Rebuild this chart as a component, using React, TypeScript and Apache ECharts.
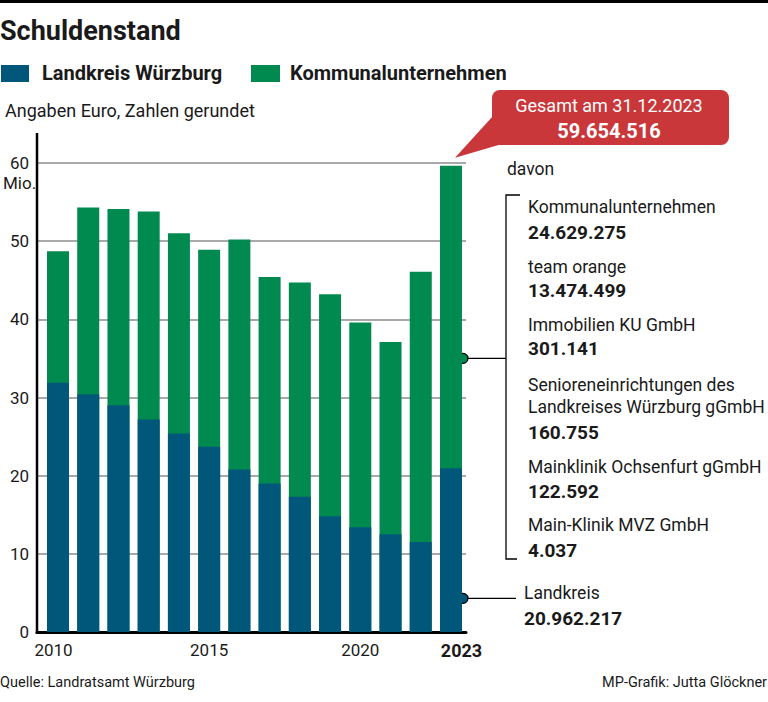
import React, { useEffect, useRef } from "react";
import * as echarts from "echarts";

const years = [2010, 2011, 2012, 2013, 2014, 2015, 2016, 2017, 2018, 2019, 2020, 2021, 2022, 2023];
const landkreis = [31.9, 30.4, 29.0, 27.2, 25.4, 23.7, 20.8, 19.0, 17.3, 14.8, 13.4, 12.5, 11.5, 20.962217];
const kommunal = [16.8, 23.9, 25.1, 26.6, 25.6, 25.2, 29.4, 26.4, 27.4, 28.4, 26.2, 24.6, 34.6, 38.692299];
const yTicks = [0, 10, 20, 30, 40, 50, 60];
const xLabels = [2010, 2015, 2020, 2023];
const breakdown = [
  { name: ["Kommunalunternehmen"], value: "24.629.275" },
  { name: ["team orange"], value: "13.474.499" },
  { name: ["Immobilien KU GmbH"], value: "301.141" },
  { name: ["Senioreneinrichtungen des", "Landkreises Würzburg gGmbH"], value: "160.755" },
  { name: ["Mainklinik Ochsenfurt gGmbH"], value: "122.592" },
  { name: ["Main-Klinik MVZ GmbH"], value: "4.037" },
];
const totalLabel = "59.654.516";
const landkreisLabel = "20.962.217";

const BLUE = "#00577a";
const GREEN = "#008a4f";
const RED = "#c9373a";
const FONT = "Roboto";
const TXT = "#1a1a1a";

export default function App() {
  const ref = useRef<HTMLDivElement>(null);
  useEffect(() => {
    if (!ref.current) return;
    const chart = echarts.init(ref.current, undefined, { renderer: "svg" });
    const gridLeft = 37;
    const gridRight = 466;
    const totals = years.map((_, i) => landkreis[i] + kommunal[i]);
    chart.setOption({
      animation: false,
      grid: { left: gridLeft, right: 768 - gridRight, top: 163, bottom: 70, containLabel: false },
      xAxis: {
        type: "value",
        min: 2009.305,
        max: 2023.497,
        axisLine: { show: true, lineStyle: { color: "#000", width: 3 } },
        axisTick: { show: false },
        splitLine: { show: false },
        axisLabel: {
          customValues: xLabels,
          margin: 9,
          fontFamily: FONT,
          fontSize: 17,
          color: TXT,
          formatter: (v: number) => (v === 2010 ? "{a|2010}" : v === 2023 ? "{b|2023}" : String(v)),
          rich: {
            a: { fontFamily: FONT, fontSize: 17, color: TXT, padding: [0, 9, 0, 0] },
            b: { fontFamily: FONT, fontSize: 18, fontWeight: "bold", color: TXT, padding: [0, 0, 0, 21] },
          },
        },
      },
      yAxis: {
        type: "value",
        min: 0,
        max: 60,
        interval: 10,
        axisLine: { show: false },
        axisTick: { show: false },
        splitLine: { show: true, lineStyle: { color: "#8c8c8c", width: 1.5 } },
        axisLabel: {
          margin: 8,
          fontFamily: FONT,
          fontSize: 17,
          color: TXT,
          verticalAlign: "middle",
          padding: [0, 0, 10, 0],
          formatter: (v: number) => (yTicks.includes(v) ? String(v) : ""),
        },
      },
      series: [
        {
          name: "Kommunalunternehmen",
          type: "bar",
          barWidth: 22,
          barGap: "-100%",
          itemStyle: { color: GREEN },
          data: years.map((y, i) => [y, totals[i]]),
        },
        {
          name: "Landkreis Würzburg",
          type: "bar",
          barWidth: 22,
          barGap: "-100%",
          itemStyle: { color: BLUE },
          data: years.map((y, i) => [y, landkreis[i]]),
        },
      ],
    });

    const last = years.length - 1;
    const barRight = chart.convertToPixel({ gridIndex: 0 }, [years[last], 0])[0] + 11;
    const greenY = chart.convertToPixel({ gridIndex: 0 }, [years[last], 35])[1];
    const blueY = chart.convertToPixel({ gridIndex: 0 }, [years[last], 4.3])[1];
    const topY = chart.convertToPixel({ gridIndex: 0 }, [years[last], totals[last]])[1];

    const t = (text: string, x: number, y: number, opts: any = {}) => ({
      type: "text",
      x,
      y,
      silent: true,
      style: {
        text,
        fill: opts.fill || TXT,
        font: `${opts.bold ? "bold " : ""}${opts.size || 17}px ${FONT}`,
        align: opts.align || "left",
        verticalAlign: "middle",
      },
    });

    const g: any[] = [];
    g.push({ type: "rect", shape: { x: 0, y: 0, width: 768, height: 3 }, style: { fill: "#000" } });
    g.push(t("Schuldenstand", 0, 31, { bold: true, size: 27 }));
    g.push({ type: "rect", shape: { x: 1, y: 65, width: 28, height: 17 }, style: { fill: BLUE } });
    g.push(t("Landkreis Würzburg", 42, 73, { bold: true, size: 20 }));
    g.push({ type: "rect", shape: { x: 251, y: 65, width: 29, height: 17 }, style: { fill: GREEN } });
    g.push(t("Kommunalunternehmen", 290, 73, { bold: true, size: 20 }));
    g.push(t("Angaben Euro, Zahlen gerundet", 5, 110, { size: 18 }));
    g.push(t("Mio.", 3, 183, { size: 17 }));
    g.push({ type: "line", shape: { x1: gridLeft, y1: 133, x2: gridLeft, y2: 634 }, style: { stroke: "#000", lineWidth: 2.5 } });

    // callout
    g.push({ type: "polygon", shape: { points: [[493, 116], [455, topY - 8], [502, 144]] }, style: { fill: RED } });
    g.push({ type: "rect", shape: { x: 492, y: 90, width: 237, height: 55, r: 8 }, style: { fill: RED } });
    g.push(t("Gesamt am 31.12.2023", 609, 105, { fill: "#fff", size: 18, align: "center" }));
    g.push(t(totalLabel, 609, 131, { fill: "#fff", size: 20, bold: true, align: "center" }));

    g.push(t("davon", 507, 169, { size: 17.5 }));
    g.push({ type: "polyline", shape: { points: [[520, 195], [506, 195], [506, 559], [517, 559]] }, style: { stroke: "#000", lineWidth: 1.3, fill: "none" } });

    const nameYs = [[207], [267], [325], [385, 407], [467], [525]];
    const valYs = [232, 290, 348, 432, 491, 550];
    breakdown.forEach((b, i) => {
      b.name.forEach((n, j) => g.push(t(n, 528, nameYs[i][j], { size: 17.5 })));
      g.push(t(b.value, 528, valYs[i], { bold: true, size: 19 }));
    });

    g.push({ type: "line", shape: { x1: barRight, y1: greenY, x2: 506, y2: greenY }, style: { stroke: "#000", lineWidth: 1.3 } });
    g.push({ type: "circle", shape: { cx: barRight + 1, cy: greenY, r: 5 }, style: { fill: GREEN, stroke: "#000", lineWidth: 1.2 } });
    g.push({ type: "line", shape: { x1: barRight, y1: blueY, x2: 516, y2: blueY }, style: { stroke: "#000", lineWidth: 1.3 } });
    g.push({ type: "circle", shape: { cx: barRight + 1, cy: blueY, r: 5 }, style: { fill: BLUE, stroke: "#000", lineWidth: 1.2 } });
    g.push(t("Landkreis", 524, 593, { size: 17.5 }));
    g.push(t(landkreisLabel, 524, 618, { bold: true, size: 19 }));

    g.push(t("Quelle: Landratsamt Würzburg", 0, 682, { size: 14.5 }));
    g.push(t("MP-Grafik: Jutta Glöckner", 767, 682, { size: 14.5, align: "right" }));

    chart.setOption({ graphic: g });
    return () => chart.dispose();
  }, []);
  return <div ref={ref} style={{ position: "fixed", left: 0, top: 0, width: 768, height: 702, background: "#fff" }} />;
}
